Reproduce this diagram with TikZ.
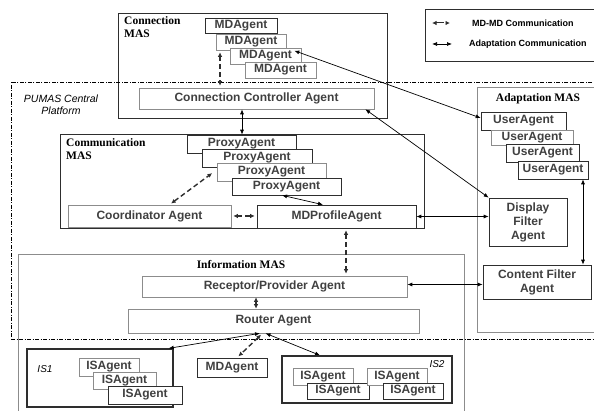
\documentclass[tikz,border=0pt]{standalone}
\usepackage{fontspec}
\setmainfont{Liberation Sans}
\newfontfamily\titlefont{Liberation Serif}
\usetikzlibrary{arrows.meta,calc}

\definecolor{boxgray}{HTML}{8C8C8C}
\definecolor{txtgray}{HTML}{404040}
\definecolor{linedark}{HTML}{2E2E2E}

\begin{document}
\begin{tikzpicture}[x=1pt,y=-1pt,
    agent/.style={draw=linedark,fill=white,inner sep=0pt,line width=0.6pt,
      font=\fontsize{12}{14}\selectfont\bfseries,text=txtgray,align=center},
    softagent/.style={agent,draw=boxgray},
    mas/.style={draw=boxgray,line width=0.6pt,inner sep=0pt},
    title/.style={font=\titlefont\fontsize{11.5}{13.5}\selectfont\bfseries,inner sep=0pt,align=left},
    isname/.style={font=\fontsize{10}{12}\selectfont\itshape,inner sep=0pt},
    legtext/.style={font=\fontsize{9}{11}\selectfont\bfseries,inner sep=0pt,anchor=west},
    adaptarrow/.style={draw=black,line width=0.7pt,{Latex[length=5pt,width=4pt]}-{Latex[length=5pt,width=4pt]}},
    mdmdarrow/.style={draw=linedark,line width=1.4pt,dash pattern=on 5pt off 3pt,
      shorten <=2pt,shorten >=2pt,{Latex[length=4.5pt,width=4.5pt]}-{Latex[length=4.5pt,width=4.5pt]}}]

  \useasboundingbox (0,0) rectangle (594,411);
  \clip (0,0) rectangle (594,411);

  \begin{scope}[every node/.style={mas}]
    \node[draw=linedark,minimum width=269,minimum height=105] (conn) at (252.5,65.5) {};
    \node[draw=linedark,minimum width=364,minimum height=94] (comm) at (242,181) {};
    \node[minimum width=446,minimum height=170] (info) at (241,339) {};
    \node[minimum width=130,minimum height=245] (adapt) at (542,209.5) {};
    \node[draw=linedark,minimum width=180,minimum height=52] (legend) at (515,35) {};
    \node[draw=black,dash pattern=on 4pt off 1.5pt on 1pt off 1.5pt,
      minimum width=594,minimum height=257] (pumas) at (308,210.5) {};
  \end{scope}

  \node[title,anchor=north west] (conntitle) at (124,16) {Connection\\MAS};
  \node[title,anchor=north west] (commtitle) at (66,138) {Communication\\MAS};
  \node[title] (infotitle) at (241,265) {Information MAS};
  \node[title] (adapttitle) at (538,99) {Adaptation MAS};
  \node[font=\fontsize{10.5}{12}\selectfont\itshape,align=center,inner sep=0pt] (pumastitle) at (61,104.5) {PUMAS Central\\Platform};

  \begin{scope}[every node/.style={agent}]
    \node (mda1) at (241,25.5) [minimum width=72,minimum height=15] {MDAgent};
    \node (mda2) at (251,42) [softagent,minimum width=70,minimum height=16] {MDAgent};
    \node (mda3) at (265.5,56) [softagent,minimum width=71,minimum height=16] {MDAgent};
    \node (mda4) at (280.5,70) [softagent,minimum width=71,minimum height=16] {MDAgent};
    \node (ctrl) at (256.5,98.5) [softagent,minimum width=235,minimum height=21] {Connection Controller Agent};

    \node (pa) at (241.5,144) [minimum width=109,minimum height=18] {ProxyAgent};
    \node (pb) at (257,158) [minimum width=110,minimum height=18] {ProxyAgent};
    \node (pc) at (271.5,172) [softagent,minimum width=109,minimum height=18] {ProxyAgent};
    \node (pd) at (286.5,186.5) [minimum width=109,minimum height=17] {ProxyAgent};
    \node (coord) at (149.5,216) [softagent,minimum width=163,minimum height=22] {Coordinator Agent};
    \node (mdp) at (336.5,216.5) [minimum width=159,minimum height=23] {MDProfileAgent};

    \node (rec) at (274.5,286.5) [softagent,minimum width=265,minimum height=21] {Receptor/Provider Agent};
    \node (router) at (273.5,321) [softagent,minimum width=291,minimum height=24] {Router Agent};
    \node (mdb) at (232,367.5) [minimum width=70,minimum height=19] {MDAgent};

    \node (is1) at (100,378) [line width=1.3pt,minimum width=146,minimum height=58] {};
    \node (isa1) at (109,367) [softagent,minimum width=60,minimum height=18] {ISAgent};
    \node (isa2) at (124.5,380.5) [softagent,minimum width=63,minimum height=17] {ISAgent};
    \node (isa3) at (145,395) [minimum width=74,minimum height=18] {ISAgent};

    \node (is2) at (367,379.5) [line width=1.3pt,minimum width=170,minimum height=47] {};
    \node (isb1) at (323,376.5) [softagent,minimum width=60,minimum height=17] {ISAgent};
    \node (isb2) at (338,391) [minimum width=62,minimum height=16] {ISAgent};
    \node (isb3) at (397,376.5) [softagent,minimum width=60,minimum height=17] {ISAgent};
    \node (isb4) at (413,391) [minimum width=60,minimum height=16] {ISAgent};

    \node (ua1) at (523.5,121) [minimum width=85,minimum height=18] {UserAgent};
    \node (ua2) at (532,137.5) [softagent,minimum width=82,minimum height=15] {UserAgent};
    \node (ua3) at (542.5,153) [minimum width=73,minimum height=18] {UserAgent};
    \node (ua4) at (553,170) [minimum width=70,minimum height=18] {UserAgent};
    \node (disp) at (528,222) [minimum width=78,minimum height=48] {Display\\Filter\\Agent};
    \node (cf) at (537,282) [minimum width=108,minimum height=34] {Content Filter\\Agent};
  \end{scope}

  \node[isname] (is1name) at (45,369) {IS1};
  \node[isname] (is2name) at (437,364) {IS2};

  \coordinate (leg1a) at (432,23);
  \coordinate (leg1b) at (450,23);
  \coordinate (leg2a) at (432,44);
  \coordinate (leg2b) at (452,44);
  \node[legtext] (leg1) at (472,23) {MD-MD Communication};
  \node[legtext] (leg2) at (469,44) {Adaptation Communication};

  \begin{scope}[every edge/.style={mdmdarrow}]
    \path ([xshift=-31pt]mda2.south) edge ([xshift=-36.5pt]ctrl.north);
    \path ([xshift=20pt]coord.north) edge ([xshift=-3pt]pc.west);
    \path (coord.east) edge (coord.east -| mdp.west);
    \path ([xshift=9.5pt]mdp.south) edge ([xshift=71.5pt]rec.north);
    \path ([xshift=-18.5pt]rec.south) edge[shorten <=0pt,shorten >=0pt,line width=1.2pt] ([xshift=-17.5pt]router.north);
    \path ([xshift=-11pt]router.south) edge ([xshift=5pt]mdb.north);
    \path (leg1a) edge[line width=1pt,shorten <=0pt,shorten >=0pt,dash pattern=on 8pt off 3pt] (leg1b);
  \end{scope}

  \begin{scope}[every edge/.style={adaptarrow}]
    \path ([xshift=-7pt,yshift=-3pt]mda3.north east) edge ([yshift=3pt]ua1.west);
    \path ([xshift=-14.5pt]ctrl.south) edge ([xshift=-14.5pt]ctrl.south |- pa.north);
    \path ([xshift=-9pt]ctrl.south east) edge (disp.north west);
    \path ([xshift=-4.5pt]pd.south) edge ([xshift=-13.5pt]mdp.north);
    \path (mdp.east) edge (mdp.east -| disp.west);
    \path ([xshift=30pt]ua4.south) edge ([xshift=46pt]cf.north);
    \path ([yshift=2pt]rec.east) edge ([yshift=2pt]rec.east -| cf.west);
    \path ([xshift=-13.5pt]router.south) edge ([xshift=-5pt]is1.north east);
    \path ([xshift=-8pt]router.south) edge ([xshift=-47pt]is2.north);
    \path (leg2a) edge (leg2b);
  \end{scope}

\end{tikzpicture}
\end{document}
